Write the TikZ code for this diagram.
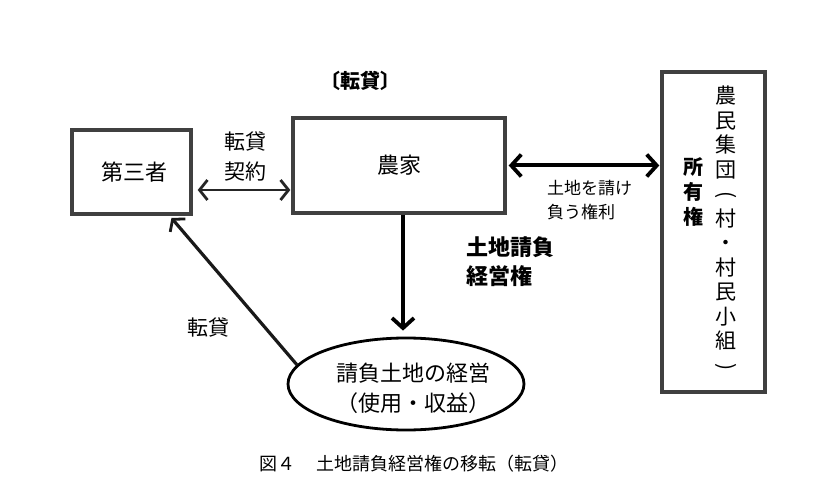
\documentclass[tikz,border=0pt]{standalone}
\usepackage{fontspec}
\usepackage{graphicx}
\setmainfont{Noto Sans CJK JP}
\usetikzlibrary{positioning,shapes.geometric,arrows.meta}

\newcommand{\vopen}{\rotatebox[origin=c]{-90}{(}}
\newcommand{\vclose}{\rotatebox[origin=c]{-90}{)}}

\begin{document}
\begin{tikzpicture}[x=1pt, y=-1pt,
  box/.style={draw=black!75, line width=3.4pt, rectangle, inner sep=0pt},
  tipA/.tip={Straight Barb[length=8pt,width=20pt,line width=2.8pt]},
  tipB/.tip={Straight Barb[length=10pt,width=22pt,line width=3.8pt]},
  lbl/.style={font=\fontsize{21}{30}\selectfont, align=left, inner sep=0pt}]
            \useasboundingbox (0,0) rectangle (827,489);

            \node[box, minimum width=119pt, minimum height=84pt, font=\fontsize{22}{24}\selectfont] (sansha) at (131.5,172) {\hspace{6pt}第三者};
            \node[box, minimum width=212pt, minimum height=95pt, font=\fontsize{22}{24}\selectfont] (nouka) at (399,165.5) {\raisebox{-4pt}{農家}};
            \node[box, minimum width=103pt, minimum height=320pt] (shoyu) at (713.5,232) {};
            \node[draw, ellipse, line width=2.8pt, minimum width=236pt, minimum height=92pt] (keiei) at (406,384) {};

            % texts
            \node[lbl, font=\fontsize{20}{25}\selectfont\bfseries] (tentai) at (360,81) {〔転貸〕};
            \node[lbl, align=center] (keiyaku) at (245,156) {転貸\\契約};
            \node[lbl, anchor=west, font=\fontsize{17}{24}\selectfont] (ukeoi) at (547,200) {土地を請け\\負う権利};
            \node[lbl, anchor=west, font=\fontsize{22}{29}\selectfont\bfseries] (keieiken) at (466,262) {土地請負\\経営権};
            \node[lbl] (tentai2) at (208,328) {転貸};
            \node[lbl, anchor=west, font=\fontsize{22}{30}\selectfont] (naiyou) at (336,388) {請負土地の経営\\（使用・収益）};
            \node[lbl, align=center, font=\fontsize{20}{25}\selectfont\bfseries] (shoyuken) at (693,192) {所\\有\\権};
            \node[lbl, align=center, anchor=north, font=\fontsize{21}{24.5}\selectfont] (shudan) at (726,86) {農\\民\\集\\団\\\vopen\\村\\・\\村\\民\\小\\組\\\vclose};
            \node[lbl, font=\fontsize{18}{20}\selectfont] (caption) at (414,464) {図４\hspace{1.2em}土地請負経営権の移転（転貸）};

            % arrows
            \draw[tipA-tipA, line width=2.8pt, black!85, shorten <=5pt, shorten >=1pt] ([yshift=-18pt]sansha.east) -- ([yshift=-18pt]sansha.east -| nouka.west);
            \draw[tipB-tipB, line width=4pt, shorten <=2pt, shorten >=1pt] (nouka.east) -- (nouka.east -| shoyu.west);
            \draw[-tipB, line width=4pt, shorten >=6pt] ([xshift=4pt]nouka.south) -- ([xshift=4pt]nouka.south |- keiei.north);
            \draw[-tipA, line width=3.2pt, black!90, shorten >=3pt] (keiei.170) -- ([xshift=38pt]sansha.south);
        \end{tikzpicture}
\end{document}
